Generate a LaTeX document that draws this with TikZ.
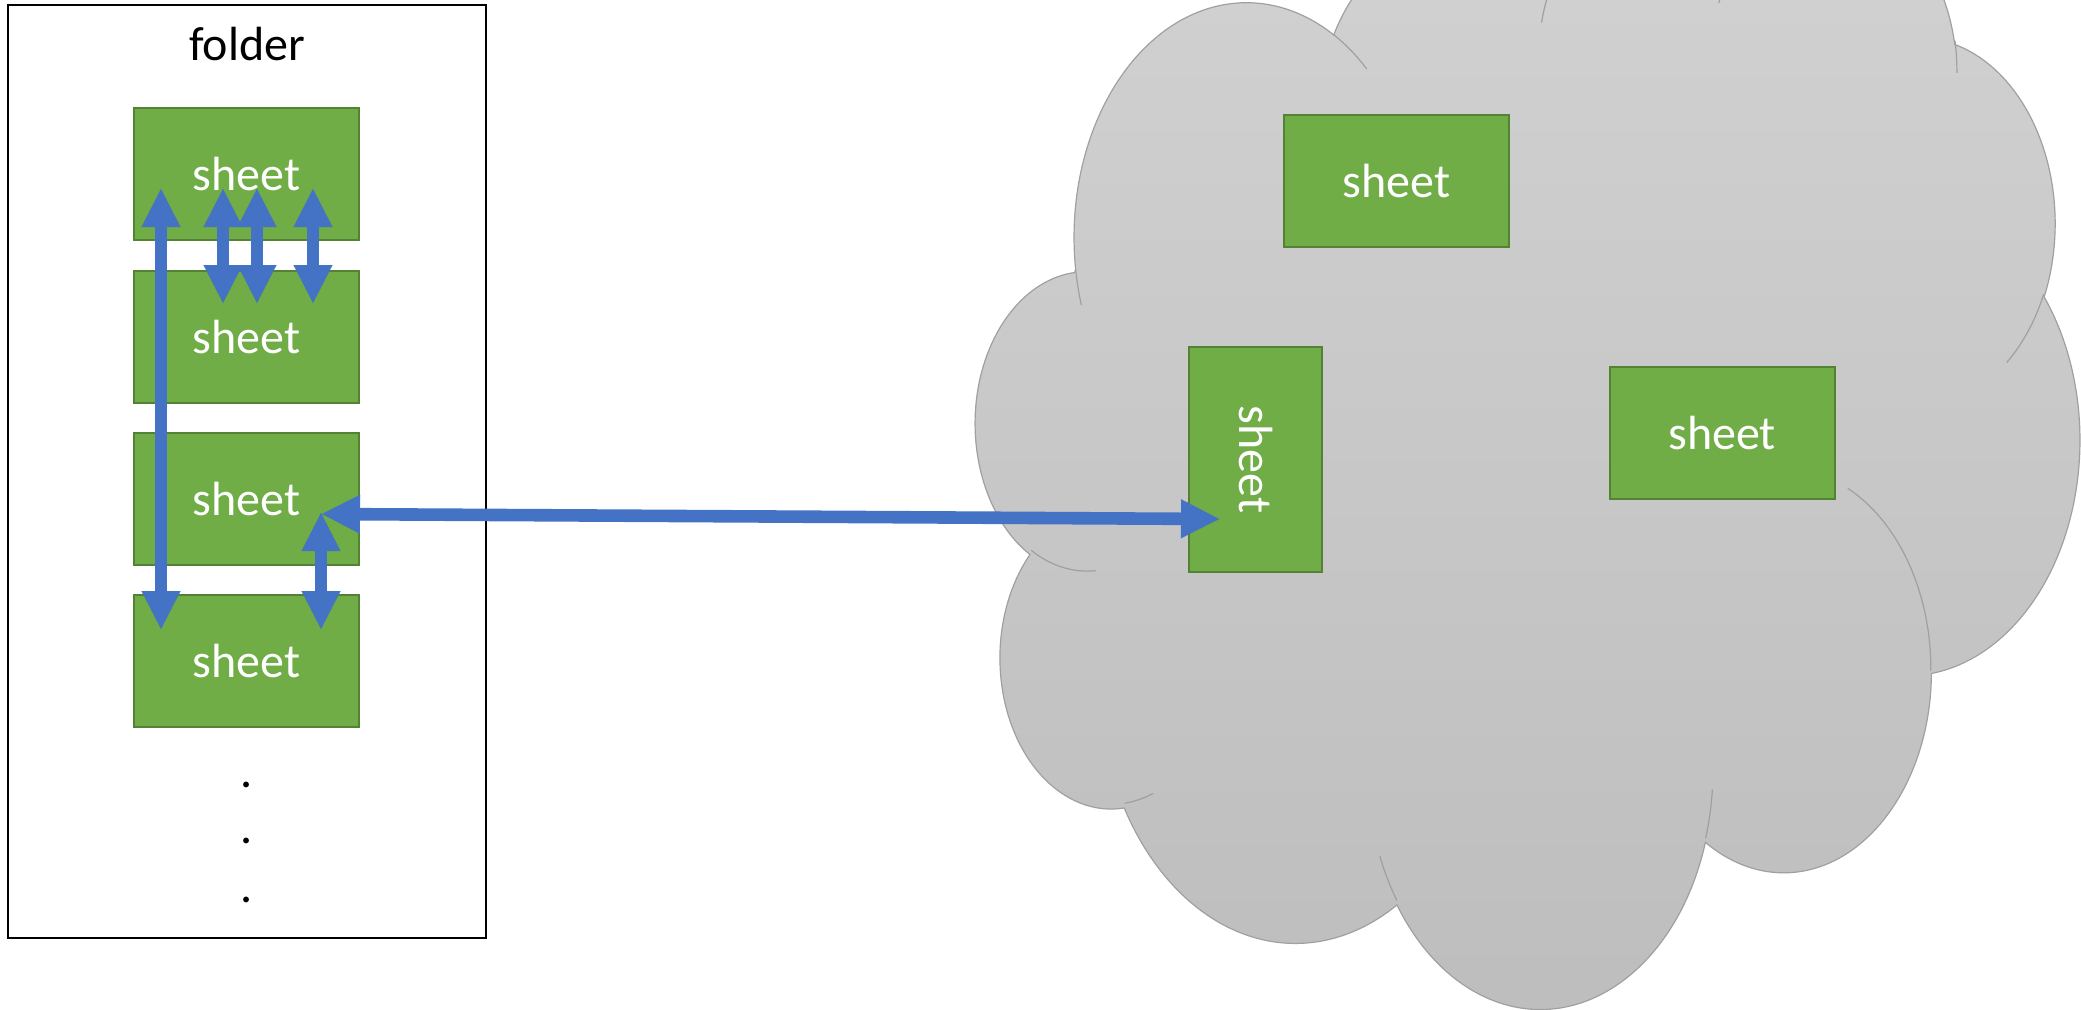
\documentclass[tikz,border=0pt]{standalone}
\usepackage{fontspec}
\setmainfont{Carlito}
\usetikzlibrary{arrows.meta,calc}

\definecolor{sheetgreen}{RGB}{112,173,71}
\definecolor{sheetedge}{RGB}{84,130,53}
\definecolor{arrowblue}{RGB}{68,114,196}
\definecolor{cloudtop}{RGB}{210,210,210}
\definecolor{cloudbottom}{RGB}{189,189,189}
\definecolor{cloudedge}{RGB}{160,160,160}

\newcommand\labelfont{\fontsize{24pt}{29pt}\selectfont}

\tikzset{
  btip/.tip={Triangle[length=19pt,width=19.5pt,line width=0.1pt]},
  sheetbox/.style={draw=sheetedge, fill=sheetgreen, line width=1pt,
    minimum width=112.5pt, minimum height=66pt, inner sep=0pt,
    text=white, font=\labelfont},
  folderbox/.style={draw=black, line width=1.4pt, minimum width=239pt,
    minimum height=466.5pt, inner sep=0pt},
  link/.style={draw=arrowblue, line width=6.3pt, btip-btip},
  cloudbody/.style={draw=cloudedge, line width=0.6pt,
    top color=cloudtop, bottom color=cloudbottom},
  cloudcrease/.style={draw=cloudedge, line width=0.6pt},
  % elliptical arc given by radii, start angle and sweep measured as
  % polar angles of the ellipse (converted here to parametric angles)
  cld/.style n args={4}{insert path={arc[x radius=#1, y radius=#2,
    start angle={atan2((#1)*sin(#3),(#2)*cos(#3))},
    delta angle={mod(atan2((#1)*sin((#3)+(#4)),(#2)*cos((#3)+(#4)))-atan2((#1)*sin(#3),(#2)*cos(#3))+720,360)}]}},
}

\begin{document}
\begin{tikzpicture}[x=0.5pt, y=-0.5pt]
\useasboundingbox (0,0) rectangle (2081,1009);
\clip (0,0) rectangle (2081,1009);

% ---------- cloud (drawn in a 43200 x 43200 frame) ----------
\begin{scope}[shift={(976,-98)}, x={(0.0127778pt,0pt)}, y={(0pt,-0.0127662pt)}]
  \shadedraw[cloudbody] (3900,14370)
    [cld={6753}{9190}{-190.4875}{123.7805}]
    [cld={5333}{7267}{-144.1024}{89.9452}]
    [cld={4365}{5945}{-145.8079}{99.7230}]
    [cld={4857}{6595}{-130.9861}{117.2417}]
    [cld={5333}{7273}{-78.7089}{109.0269}]
    [cld={6775}{9220}{-46.2673}{130.2690}]
    [cld={5785}{7867}{0.6250}{114.0333}]
    [cld={6752}{9215}{22.4516}{115.1726}]
    [cld={7720}{10543}{66.2426}{75.7110}]
    [cld={4360}{5918}{-274.9421}{146.7356}]
    [cld={4345}{5945}{-246.8285}{152.5189}]
    -- cycle;
  % creases where the puffs overlap
  \draw[cloudcrease] (4693,26177) [cld={4345}{5945}{86.7420}{26.4295}];
  \draw[cloudcrease] (6928,34899) [cld={4360}{5918}{73.6105}{11.4475}];
  \draw[cloudcrease] (16478,39090) [cld={6752}{9215}{137.6242}{14.0811}];
  \draw[cloudcrease] (28827,34751) [cld={6752}{9215}{6.4533}{15.9984}];
  \draw[cloudcrease] (34129,22954) [cld={5785}{7867}{-70.2924}{70.9174}];
  \draw[cloudcrease] (41798,15354) [cld={5333}{7273}{30.3180}{27.7515}];
  \draw[cloudcrease] (38324,5426) [cld={4857}{6595}{-13.7443}{14.8589}];
  \draw[cloudcrease] (29078,3952) [cld={4857}{6595}{-149.1815}{18.1954}];
  \draw[cloudcrease] (22141,4720) [cld={4365}{5945}{-163.4943}{17.6864}];
  \draw[cloudcrease] (14000,5192) [cld={6753}{9190}{-66.7070}{12.3194}];
  \draw[cloudcrease] (4127,15789) [cld={6753}{9190}{157.6544}{11.8582}];
\end{scope}

% ---------- sheets in the cloud ----------
\node[sheetbox] (c1) at (1396.5,180.5) {sheet};
\node[sheetbox] (c2) at (1722,433) {sheet};
\node[sheetbox, rotate=-90, minimum height=66.5pt] (sv) at (1255.5,459.5) {sheet};

% ---------- folder ----------
\node[folderbox] (folder) at (247,471.5) {};
\node[font=\labelfont, inner sep=0pt] (title) at (247,44) {folder};

\node[sheetbox] (s1) at (246.5,174) {sheet};
\node[sheetbox] (s2) at (246.5,336.5) {sheet};
\node[sheetbox] (s3) at (246.5,498.5) {sheet};
\node[sheetbox] (s4) at (246.5,661) {sheet};

\node[font=\labelfont, inner sep=0pt] (d1) at (247,785) {.};
\node[font=\labelfont, inner sep=0pt] (d2) at (247,841) {.};
\node[font=\labelfont, inner sep=0pt] (d3) at (247,900) {.};

% ---------- arrow end points ----------
\coordinate (a1) at ($(s1.center)+(-85.5,15)$);
\coordinate (a2) at ($(s4.center)+(-85.5,-32)$);
\coordinate (b1) at ($(s1.center)+(-23.5,15)$);
\coordinate (b2) at ($(s2.center)+(-23.5,-33.5)$);
\coordinate (e1) at ($(s1.center)+(10.5,15)$);
\coordinate (e2) at ($(s2.center)+(10.5,-33.5)$);
\coordinate (f1) at ($(s1.center)+(66.5,15)$);
\coordinate (f2) at ($(s2.center)+(66.5,-33.5)$);
\coordinate (g1) at ($(s3.center)+(74.5,14.5)$);
\coordinate (g2) at ($(s4.center)+(74.5,-32)$);
\coordinate (h1) at ($(s3.center)+(75.5,15.5)$);
\coordinate (h2) at ($(sv.center)+(-36.5,59.5)$);

% ---------- arrows ----------
\draw[link] (a1) -- (a2);
\draw[link] (b1) -- (b2);
\draw[link] (e1) -- (e2);
\draw[link] (f1) -- (f2);
\draw[link] (g1) -- (g2);
\draw[link] (h1) -- (h2);
\end{tikzpicture}
\end{document}
